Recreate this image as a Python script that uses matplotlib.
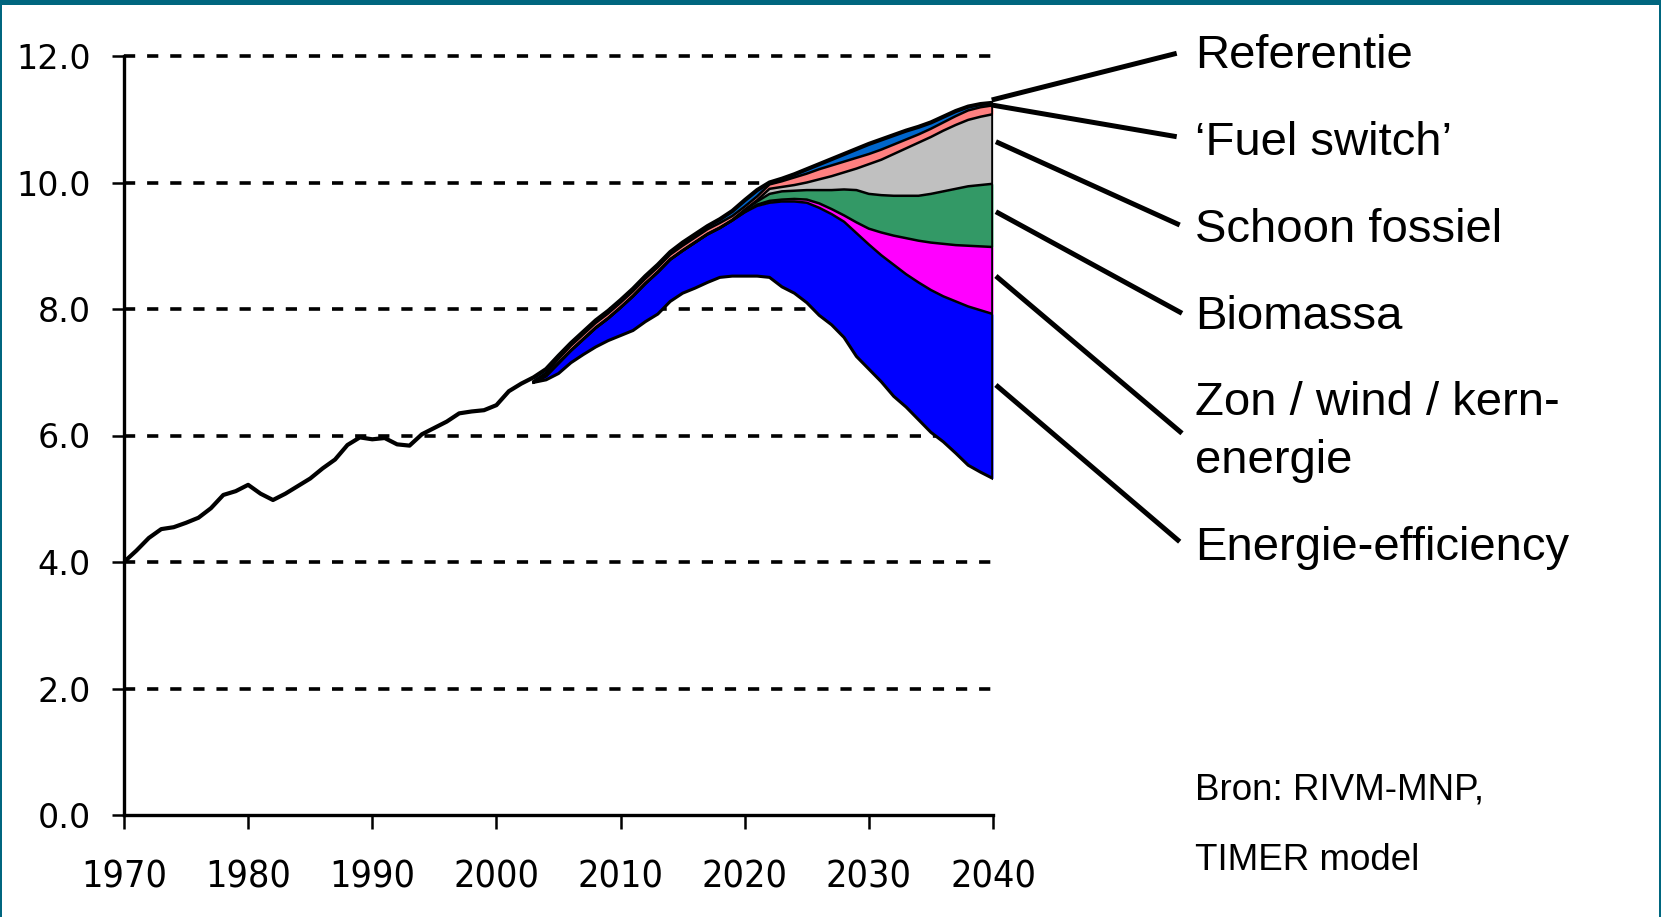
import matplotlib
matplotlib.use("Agg")
import matplotlib.pyplot as plt
from matplotlib import font_manager
from matplotlib.lines import Line2D
from matplotlib.patches import Rectangle

# referentie (historisch + projectie), 1970-2040
jaren = list(range(1970, 2041))
referentie = [4.00, 4.18, 4.38, 4.52, 4.55, 4.62, 4.70, 4.85, 5.06, 5.12,
              5.22, 5.08, 4.98, 5.08, 5.20, 5.32, 5.48, 5.62, 5.85, 5.97,
              5.94, 5.96, 5.86, 5.84, 6.02, 6.12, 6.22, 6.35, 6.38, 6.40,
              6.48, 6.70, 6.82, 6.92, 7.05, 7.26, 7.46, 7.64, 7.82, 7.97,
              8.14, 8.32, 8.52, 8.70, 8.90, 9.05, 9.18, 9.31, 9.42, 9.55,
              9.72, 9.88, 10.00, 10.06, 10.13, 10.21, 10.29, 10.37, 10.45, 10.53,
              10.61, 10.68, 10.75, 10.82, 10.88, 10.95, 11.04, 11.13, 11.20, 11.24,
              11.26]

# scenario 2003-2040: bovengrens van elke band
jaren_sc = list(range(2003, 2041))
top_fuel = [6.86, 6.99, 7.21, 7.42, 7.60, 7.78, 7.93, 8.10, 8.28, 8.48,
            8.66, 8.86, 9.00, 9.13, 9.26, 9.36, 9.47, 9.62, 9.78, 9.97,
            10.02, 10.08, 10.14, 10.21, 10.27, 10.33, 10.39, 10.45, 10.52, 10.60,
            10.68, 10.76, 10.85, 10.95, 11.05, 11.14, 11.19, 11.22]
top_schoon = [6.84, 6.95, 7.15, 7.35, 7.53, 7.71, 7.86, 8.03, 8.21, 8.41,
              8.59, 8.79, 8.93, 9.06, 9.19, 9.29, 9.41, 9.57, 9.72, 9.90,
              9.93, 9.96, 10.00, 10.05, 10.10, 10.16, 10.22, 10.29, 10.36, 10.45,
              10.54, 10.63, 10.72, 10.82, 10.91, 10.99, 11.04, 11.08]
top_bio = [6.84, 6.94, 7.14, 7.34, 7.52, 7.70, 7.85, 8.02, 8.20, 8.40,
           8.58, 8.78, 8.92, 9.05, 9.18, 9.28, 9.40, 9.56, 9.70, 9.82,
           9.86, 9.87, 9.88, 9.88, 9.88, 9.89, 9.88, 9.82, 9.80, 9.79,
           9.79, 9.79, 9.82, 9.86, 9.90, 9.94, 9.96, 9.98]
top_zon = [6.84, 6.94, 7.14, 7.34, 7.52, 7.70, 7.85, 8.02, 8.20, 8.40,
           8.58, 8.78, 8.92, 9.05, 9.18, 9.28, 9.40, 9.53, 9.65, 9.71,
           9.73, 9.74, 9.73, 9.67, 9.58, 9.48, 9.37, 9.27, 9.21, 9.16,
           9.12, 9.08, 9.05, 9.03, 9.01, 9.00, 8.99, 8.98]
top_eff = [6.84, 6.94, 7.14, 7.34, 7.52, 7.70, 7.85, 8.02, 8.20, 8.40,
           8.58, 8.78, 8.92, 9.05, 9.18, 9.28, 9.40, 9.53, 9.63, 9.68,
           9.70, 9.70, 9.68, 9.60, 9.50, 9.38, 9.20, 9.02, 8.85, 8.70,
           8.55, 8.42, 8.30, 8.20, 8.12, 8.04, 7.98, 7.92]
met_maatregelen = [6.84, 6.88, 6.98, 7.15, 7.28, 7.40, 7.50, 7.58, 7.66, 7.80,
                   7.92, 8.12, 8.25, 8.33, 8.42, 8.50, 8.52, 8.52, 8.52, 8.50,
                   8.35, 8.25, 8.10, 7.90, 7.75, 7.55, 7.25, 7.05, 6.85, 6.62,
                   6.45, 6.25, 6.05, 5.90, 5.72, 5.53, 5.42, 5.32]

labels = ["Referentie", "\u2018Fuel switch\u2019", "Schoon fossiel", "Biomassa",
          "Zon / wind / kern-", "energie", "Energie-efficiency"]

W, H = 1661, 917
fig = plt.figure(figsize=(W / 100, H / 100), dpi=100)
fig.patch.set_facecolor("white")


def fx(px):
    return px / W


def fy(py):
    return 1 - py / H


ax = fig.add_axes([fx(124), fy(815), fx(993) - fx(124), fy(56) - fy(815)])
ax.set_xlim(1970, 2040)
ax.set_ylim(0, 12)

ref_sc = referentie[33:]
bands = [
    (ref_sc, top_fuel, "#0066cc"),
    (top_fuel, top_schoon, "#ff8080"),
    (top_schoon, top_bio, "#c0c0c0"),
    (top_bio, top_zon, "#339966"),
    (top_zon, top_eff, "#ff00ff"),
    (top_eff, met_maatregelen, "#0000ff"),
]
for hi, lo, c in bands:
    ax.fill_between(jaren_sc, lo, hi, color=c, lw=0, zorder=2)

for b in [top_fuel, top_schoon, top_bio, top_zon, top_eff]:
    ax.plot(jaren_sc, b, color="black", lw=1.8, zorder=3)
ax.plot(jaren_sc, met_maatregelen, color="black", lw=2.2, zorder=3)
ax.plot(jaren, referentie, color="black", lw=3.0, zorder=4)
ax.vlines(jaren_sc[-1], met_maatregelen[-1], ref_sc[-1], color="black", lw=2.6, zorder=4)

# gestippelde rasterlijnen
for v in range(2, 13, 2):
    ax.axhline(v, color="black", lw=2.6, dashes=(3.1, 3.3), zorder=1, clip_on=False)

for s in ["top", "right"]:
    ax.spines[s].set_visible(False)
for s in ["left", "bottom"]:
    ax.spines[s].set_linewidth(2.4)
    ax.spines[s].set_zorder(5)

# smal lettertype voor de jaartallen, als het er is
narrow = None
for f in font_manager.fontManager.ttflist:
    fn = f.fname.lower()
    if ("narrow" in fn or "condensed" in fn) and "bold" not in fn and "oblique" not in fn \
            and "italic" not in fn and ("liberation" in fn or "dejavusans" in fn):
        narrow = f.fname
        break
if narrow:
    xprop = font_manager.FontProperties(fname=narrow, size=27)
else:
    xprop = font_manager.FontProperties(family="DejaVu Sans", size=24)

ax.set_xticks(range(1970, 2041, 10))
ax.set_yticks(range(0, 13, 2))
ax.set_yticklabels([f"{v:.1f}" for v in range(0, 13, 2)], family="DejaVu Sans", fontsize=24)
ax.set_xticklabels([str(y) for y in range(1970, 2041, 10)], fontproperties=xprop)
ax.tick_params(axis="x", direction="out", length=10, width=1.8, pad=22)
ax.tick_params(axis="y", direction="out", length=9, width=1.8, pad=15)

# verwijslijnen naar de labels
leaders = [
    ((991.7, 100), (1176.7, 53.3)),
    ((991.7, 105), (1176.7, 136.7)),
    ((995.9, 141.7), (1179.7, 225)),
    ((995.9, 211.7), (1182, 313.3)),
    ((995.9, 276), (1182, 433.3)),
    ((995.9, 385), (1179.7, 541.7)),
]
for (x0, y0), (x1, y1) in leaders:
    fig.add_artist(Line2D([fx(x0), fx(x1)], [fy(y0), fy(y1)], color="black",
                          lw=3.6, solid_capstyle="butt"))

baselines = [68, 155, 242, 329, 415, 473, 560]
for lab, yb in zip(labels, baselines):
    fig.text(fx(1195), fy(yb), lab, family="Liberation Sans", fontsize=34,
             ha="left", va="baseline")

fig.text(fx(1195), fy(800), "Bron: RIVM-MNP,", family="Liberation Sans",
         fontsize=26.5, ha="left", va="baseline")
fig.text(fx(1195), fy(870), "TIMER model", family="Liberation Sans",
         fontsize=26.5, ha="left", va="baseline")

# rand van de dia
teal = "#00667f"
fig.add_artist(Rectangle((0, fy(5)), 1, fy(0) - fy(5), transform=fig.transFigure,
                         color=teal, lw=0))
fig.add_artist(Rectangle((0, 0), fx(2), 1, transform=fig.transFigure, color=teal, lw=0))
fig.add_artist(Rectangle((1 - fx(2), 0), fx(2), 1, transform=fig.transFigure,
                         color=teal, lw=0))

fig.savefig("out.png", dpi=100)
